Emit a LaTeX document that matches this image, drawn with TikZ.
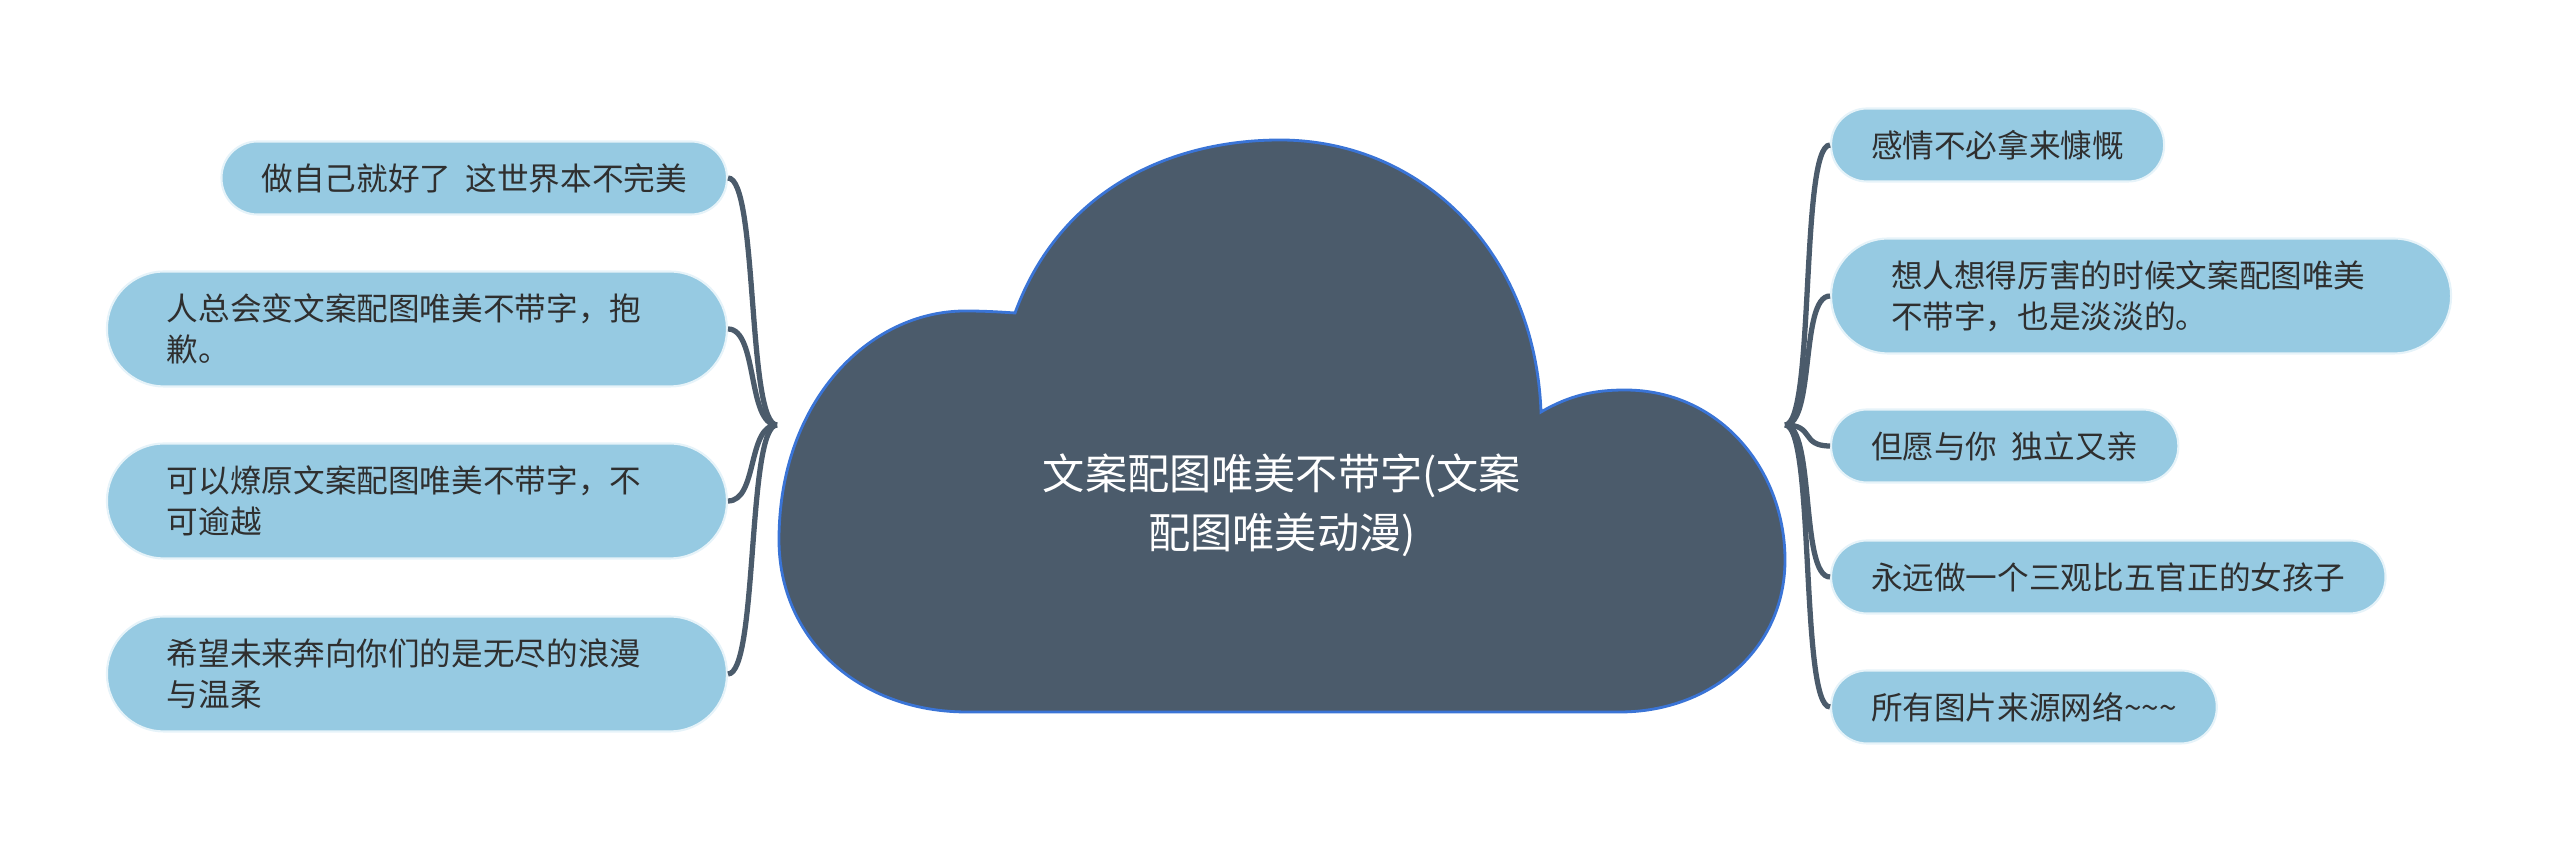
\documentclass[tikz,border=0pt]{standalone}
\usepackage{fontspec}
\setmainfont{Noto Sans CJK SC}
\usepackage{tikz}
\usetikzlibrary{positioning}
\definecolor{cloudfill}{HTML}{4B5B6B}
\definecolor{cloudline}{HTML}{3A74D6}
\definecolor{leaffill}{HTML}{96CAE2}
\definecolor{leafline}{HTML}{E6F3F9}
\definecolor{leaftext}{HTML}{2F2F2F}
\tikzset{leaf/.style={rectangle,rounded corners=3.6mm,fill=leaffill,draw=leafline,line width=0.6pt,text=leaftext,font=\fontsize{9}{11.6}\selectfont,minimum height=7.3mm,inner xsep=4mm,inner ysep=0pt},
         wide leaf/.style={leaf,rounded corners=5.7mm,minimum height=11.5mm,text width=50mm,align=left,inner xsep=6mm},
         root text/.style={text=white,font=\fontsize{12}{16.7}\selectfont,align=center},
         branch/.style={draw=cloudfill,line width=1.5pt}
}
\newcommand{\gap}{\hspace{0.45em}}
\begin{document}
\begin{tikzpicture}
\useasboundingbox (0,0) rectangle (25.6,8.52);

% cloud
\draw[fill=cloudfill,draw=cloudline,line width=0.8pt]
  (10.15,5.39) .. controls (10.60,6.62) and (11.70,7.12) .. (12.80,7.12)
  .. controls (14.20,7.12) and (15.35,6.02) .. (15.41,4.40)
  .. controls (15.70,4.57) and (15.95,4.62) .. (16.25,4.62)
  .. controls (17.20,4.62) and (17.85,3.82) .. (17.85,2.92)
  .. controls (17.85,2.02) and (17.10,1.40) .. (16.20,1.40)
  -- (9.67,1.40)
  .. controls (8.60,1.40) and (7.79,2.12) .. (7.79,3.12)
  .. controls (7.79,4.52) and (8.70,5.41) .. (9.65,5.41)
  .. controls (9.85,5.41) and (10.00,5.40) .. cycle;
\node[root text] (root) at (12.82,3.47) {文案配图唯美不带字(文案\\配图唯美动漫)};

\coordinate (lb) at (7.77,4.27);
\coordinate (rb) at (17.85,4.27);

\node[leaf,anchor=east] (l1) at (7.28,6.74) {做自己就好了\gap 这世界本不完美};
\node[wide leaf,anchor=east] (l2) at (7.28,5.23) {人总会变文案配图唯美不带字，抱\\歉。};
\node[wide leaf,anchor=east] (l3) at (7.28,3.51) {可以燎原文案配图唯美不带字，不\\可逾越};
\node[wide leaf,anchor=east] (l4) at (7.28,1.78) {希望未来奔向你们的是无尽的浪漫\\与温柔};

\node[leaf,anchor=west] (r1) at (18.30,7.07) {感情不必拿来慷慨};
\node[wide leaf,anchor=west] (r2) at (18.30,5.56) {想人想得厉害的时候文案配图唯美\\不带字，也是淡淡的。};
\node[leaf,anchor=west] (r3) at (18.30,4.06) {但愿与你\gap 独立又亲};
\node[leaf,anchor=west] (r4) at (18.30,2.75) {永远做一个三观比五官正的女孩子};
\node[leaf,anchor=west] (r5) at (18.30,1.45) {所有图片来源网络\textasciitilde\textasciitilde\textasciitilde};

\foreach \n in {l1,l2,l3,l4}
  \draw[branch] (lb) .. controls +(-0.3,0) and +(0.3,0) .. (\n.east);
\foreach \n in {r1,r2,r3,r4,r5}
  \draw[branch] (rb) .. controls +(0.3,0) and +(-0.3,0) .. (\n.west);
\end{tikzpicture}
\end{document}
